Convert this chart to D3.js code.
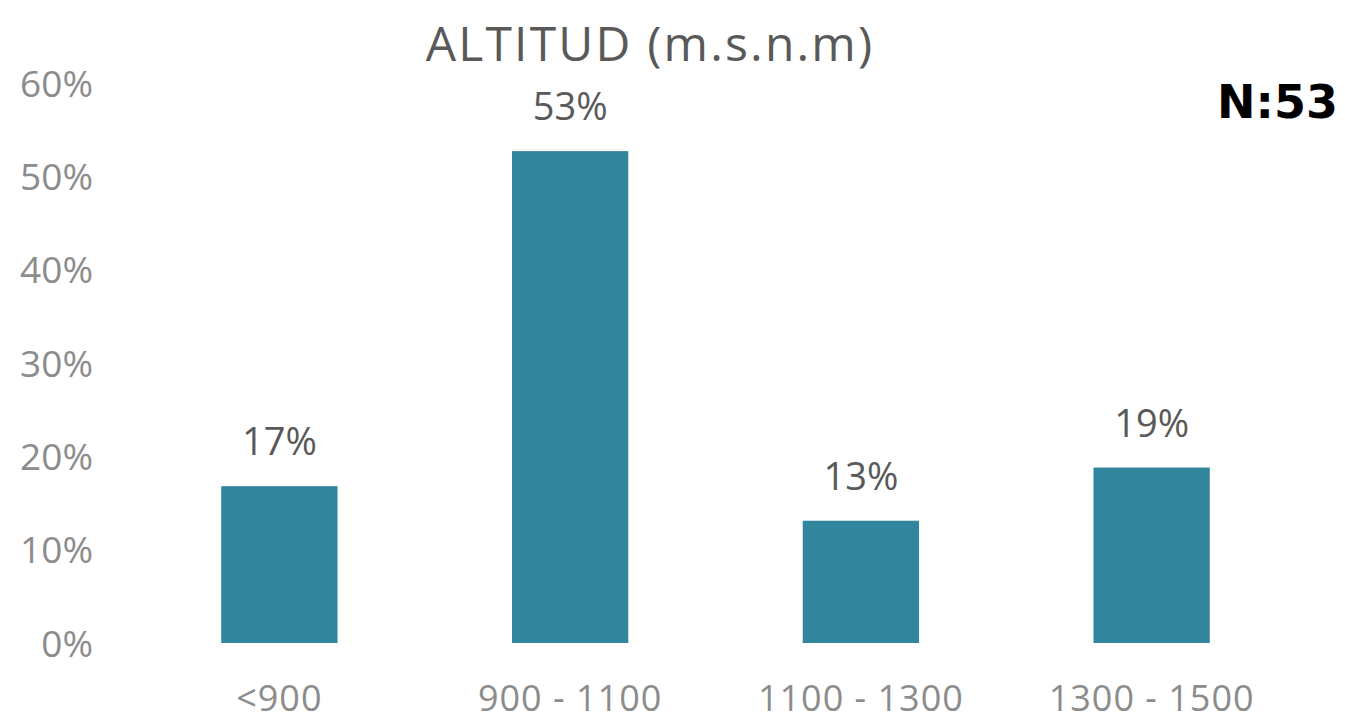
<!DOCTYPE html>
<html><head><meta charset="utf-8">
<script src="https://cdn.jsdelivr.net/npm/d3@7"></script>
<style>body{margin:0;background:#fff;}svg{display:block;}</style>
</head><body>
<svg id="c" width="1345" height="722"></svg>
<script>
const categories = ["<900", "900 - 1100", "1100 - 1300", "1300 - 1500"];
const values = [0.168, 0.527, 0.131, 0.188];
const valueLabels = ["17%", "53%", "13%", "19%"];
const yTicks = [0, 0.1, 0.2, 0.3, 0.4, 0.5, 0.6];
const title = "ALTITUD (m.s.n.m)";
const note = "N:53";

const svg = d3.select("#c");
const x = d3.scaleBand().domain(categories).range([134, 1297]).paddingInner(0.6).paddingOuter(0.3);
const y = d3.scaleLinear().domain([0, 0.6]).range([643, 83]);

const font = "'Open Sans', sans-serif";

// y axis
const yAxis = svg.append("g").attr("transform", "translate(93,0)")
  .call(d3.axisLeft(y).tickValues(yTicks).tickFormat(d3.format(".0%")).tickSize(0).tickPadding(0));
yAxis.select(".domain").remove();
yAxis.selectAll("text").attr("font-family", font).attr("font-size", 37).attr("fill", "#8c8c8c").attr("dy", "0.36em");

// x axis
const xAxis = svg.append("g").attr("transform", "translate(0,643)")
  .call(d3.axisBottom(x).tickSize(0).tickPadding(0));
xAxis.select(".domain").remove();
xAxis.selectAll("text").attr("font-family", font).attr("font-size", 36).attr("letter-spacing", 1).attr("fill", "#8c8c8c").attr("dy", null).attr("y", 68);

// bars
svg.append("g").selectAll("rect").data(values).join("rect")
  .attr("x", (d, i) => x(categories[i]))
  .attr("width", x.bandwidth())
  .attr("y", d => y(d))
  .attr("height", d => y(0) - y(d))
  .attr("fill", "#31859C");

// value labels
svg.append("g").selectAll("text").data(values).join("text")
  .attr("x", (d, i) => x(categories[i]) + x.bandwidth() / 2)
  .attr("y", d => y(d) - 31)
  .attr("text-anchor", "middle")
  .attr("font-family", font).attr("font-size", 38).attr("fill", "#595959")
  .text((d, i) => valueLabels[i]);

// title
svg.append("text").attr("x", 650).attr("y", 61).attr("text-anchor", "middle")
  .attr("font-family", font).attr("font-size", 48).attr("letter-spacing", 2.2).attr("fill", "#595959")
  .text(title);

// N note
svg.append("text").attr("x", 1338).attr("y", 118).attr("text-anchor", "end")
  .attr("font-family", "'DejaVu Sans', sans-serif").attr("font-weight", "bold").attr("font-size", 46).attr("fill", "#000")
  .text(note);
</script>
</body></html>
